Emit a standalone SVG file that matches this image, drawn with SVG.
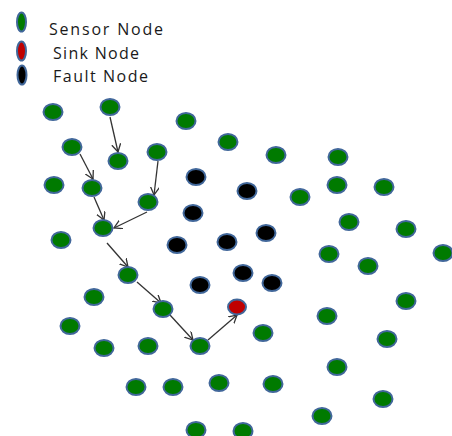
<svg xmlns="http://www.w3.org/2000/svg" width="452" height="436" viewBox="0 0 452 436">
  <style>
    .node { stroke: #41679a; stroke-width: 2; }
    .sensor { fill: #007a00; }
    .sink { fill: #c00000; }
    .fault { fill: #000000; }
    .legend-text { font-family: "Open Sans", "Liberation Sans", Arial, sans-serif; font-size: 16px; fill: #1a1a1a; }
    .edge { stroke: #333333; stroke-width: 1.3; fill: none; marker-end: url(#arrow); }
  </style>
  <defs>
    <marker id="arrow" markerUnits="userSpaceOnUse" markerWidth="12" markerHeight="12" refX="8" refY="4.5" orient="auto">
      <path d="M0,0 L8,4.5 L0,9" fill="none" stroke="#333333" stroke-width="1.3"/>
    </marker>
  </defs>

  <rect width="452" height="436" fill="#ffffff"/>

  <!-- legend -->
  <g id="legend">
    <ellipse class="node sensor" cx="21.5" cy="22" rx="4.5" ry="9.5"/>
    <ellipse class="node sink" cx="21.5" cy="51" rx="4.5" ry="9.5"/>
    <ellipse class="node fault" cx="22" cy="75" rx="4.5" ry="9.5"/>
    <text class="legend-text" x="49" y="35" textLength="114" lengthAdjust="spacing">Sensor Node</text>
    <text class="legend-text" x="53" y="59" textLength="86" lengthAdjust="spacing">Sink Node</text>
    <text class="legend-text" x="53" y="82" textLength="95" lengthAdjust="spacing">Fault Node</text>
  </g>

  <!-- routing path towards the sink -->
  <g id="connectors">
    <line class="edge" x1="110" y1="117" x2="118" y2="152"/>
    <line class="edge" x1="80" y1="154" x2="93" y2="179"/>
    <line class="edge" x1="158" y1="161" x2="154" y2="195"/>
    <line class="edge" x1="94" y1="197" x2="104" y2="220"/>
    <line class="edge" x1="147" y1="212" x2="114" y2="228"/>
    <line class="edge" x1="107" y1="243" x2="128" y2="267"/>
    <line class="edge" x1="137" y1="282" x2="161" y2="303"/>
    <line class="edge" x1="170" y1="315" x2="193" y2="340"/>
    <line class="edge" x1="208" y1="340" x2="237" y2="315"/>
  </g>

  <!-- sensor nodes -->
  <g id="sensor-nodes">
    <g id="s1"><ellipse class="node sensor" cx="53" cy="112" rx="9.5" ry="8"/></g>
    <g id="s2"><ellipse class="node sensor" cx="110" cy="107" rx="9.5" ry="8"/></g>
    <g id="s3"><ellipse class="node sensor" cx="186" cy="121" rx="9.5" ry="8"/></g>
    <g id="s4"><ellipse class="node sensor" cx="228" cy="142" rx="9.5" ry="8"/></g>
    <g id="s5"><ellipse class="node sensor" cx="72" cy="147" rx="9.5" ry="8"/></g>
    <g id="s6"><ellipse class="node sensor" cx="118" cy="161" rx="9.5" ry="8"/></g>
    <g id="s7"><ellipse class="node sensor" cx="157" cy="152" rx="9.5" ry="8"/></g>
    <g id="s8"><ellipse class="node sensor" cx="276" cy="155" rx="9.5" ry="8"/></g>
    <g id="s9"><ellipse class="node sensor" cx="338" cy="157" rx="9.5" ry="8"/></g>
    <g id="s10"><ellipse class="node sensor" cx="54" cy="185" rx="9.5" ry="8"/></g>
    <g id="s11"><ellipse class="node sensor" cx="92" cy="188" rx="9.5" ry="8"/></g>
    <g id="s12"><ellipse class="node sensor" cx="148" cy="202" rx="9.5" ry="8"/></g>
    <g id="s13"><ellipse class="node sensor" cx="300" cy="197" rx="9.5" ry="8"/></g>
    <g id="s14"><ellipse class="node sensor" cx="337" cy="185" rx="9.5" ry="8"/></g>
    <g id="s15"><ellipse class="node sensor" cx="384" cy="187" rx="9.5" ry="8"/></g>
    <g id="s16"><ellipse class="node sensor" cx="103" cy="228" rx="9.5" ry="8"/></g>
    <g id="s17"><ellipse class="node sensor" cx="61" cy="240" rx="9.5" ry="8"/></g>
    <g id="s18"><ellipse class="node sensor" cx="349" cy="222" rx="9.5" ry="8"/></g>
    <g id="s19"><ellipse class="node sensor" cx="406" cy="229" rx="9.5" ry="8"/></g>
    <g id="s20"><ellipse class="node sensor" cx="329" cy="254" rx="9.5" ry="8"/></g>
    <g id="s21"><ellipse class="node sensor" cx="368" cy="266" rx="9.5" ry="8"/></g>
    <g id="s22"><ellipse class="node sensor" cx="443" cy="253" rx="9.5" ry="8"/></g>
    <g id="s23"><ellipse class="node sensor" cx="128" cy="275" rx="9.5" ry="8"/></g>
    <g id="s24"><ellipse class="node sensor" cx="94" cy="297" rx="9.5" ry="8"/></g>
    <g id="s25"><ellipse class="node sensor" cx="163" cy="309" rx="9.5" ry="8"/></g>
    <g id="s26"><ellipse class="node sensor" cx="406" cy="301" rx="9.5" ry="8"/></g>
    <g id="s27"><ellipse class="node sensor" cx="70" cy="326" rx="9.5" ry="8"/></g>
    <g id="s28"><ellipse class="node sensor" cx="327" cy="316" rx="9.5" ry="8"/></g>
    <g id="s29"><ellipse class="node sensor" cx="263" cy="333" rx="9.5" ry="8"/></g>
    <g id="s30"><ellipse class="node sensor" cx="104" cy="348" rx="9.5" ry="8"/></g>
    <g id="s31"><ellipse class="node sensor" cx="148" cy="346" rx="9.5" ry="8"/></g>
    <g id="s32"><ellipse class="node sensor" cx="200" cy="346" rx="9.5" ry="8"/></g>
    <g id="s33"><ellipse class="node sensor" cx="387" cy="339" rx="9.5" ry="8"/></g>
    <g id="s34"><ellipse class="node sensor" cx="337" cy="367" rx="9.5" ry="8"/></g>
    <g id="s35"><ellipse class="node sensor" cx="136" cy="387" rx="9.5" ry="8"/></g>
    <g id="s36"><ellipse class="node sensor" cx="173" cy="387" rx="9.5" ry="8"/></g>
    <g id="s37"><ellipse class="node sensor" cx="219" cy="383" rx="9.5" ry="8"/></g>
    <g id="s38"><ellipse class="node sensor" cx="273" cy="384" rx="9.5" ry="8"/></g>
    <g id="s39"><ellipse class="node sensor" cx="383" cy="399" rx="9.5" ry="8"/></g>
    <g id="s40"><ellipse class="node sensor" cx="322" cy="416" rx="9.5" ry="8"/></g>
    <g id="s41"><ellipse class="node sensor" cx="196" cy="430" rx="9.5" ry="8"/></g>
    <g id="s42"><ellipse class="node sensor" cx="243" cy="431" rx="9.5" ry="8"/></g>
  </g>

  <!-- fault nodes -->
  <g id="fault-nodes">
    <g id="f1"><ellipse class="node fault" cx="196" cy="177" rx="9.5" ry="8"/></g>
    <g id="f2"><ellipse class="node fault" cx="247" cy="191" rx="9.5" ry="8"/></g>
    <g id="f3"><ellipse class="node fault" cx="193" cy="213" rx="9.5" ry="8"/></g>
    <g id="f4"><ellipse class="node fault" cx="177" cy="245" rx="9.5" ry="8"/></g>
    <g id="f5"><ellipse class="node fault" cx="227" cy="242" rx="9.5" ry="8"/></g>
    <g id="f6"><ellipse class="node fault" cx="266" cy="233" rx="9.5" ry="8"/></g>
    <g id="f7"><ellipse class="node fault" cx="243" cy="273" rx="9.5" ry="8"/></g>
    <g id="f8"><ellipse class="node fault" cx="272" cy="283" rx="9.5" ry="8"/></g>
    <g id="f9"><ellipse class="node fault" cx="200" cy="285" rx="9.5" ry="8"/></g>
  </g>

  <!-- sink node -->
  <g id="sink">
    <ellipse class="node sink" cx="237" cy="307" rx="9" ry="7.5"/>
  </g>
</svg>
